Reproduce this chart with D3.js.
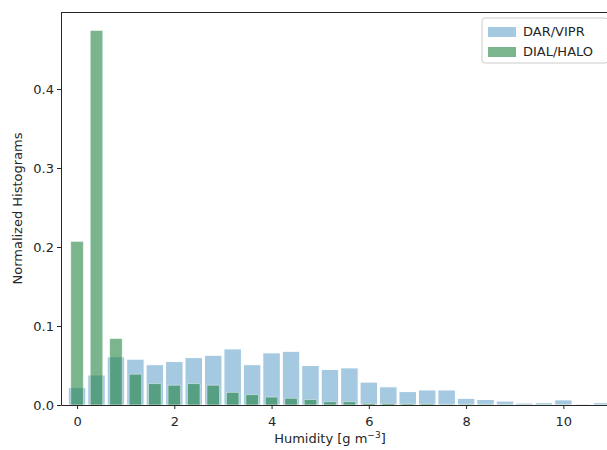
<!DOCTYPE html>
<html lang="en">
<head>
    <meta charset="UTF-8">
    <title>Normalized Histograms</title>
    <script src="https://d3js.org/d3.v7.min.js"></script>
    <style>
        body { margin: 0; background: #fff; }
        text { font-family: "DejaVu Sans", sans-serif; fill: #262626; }
        .tick text { font-size: 13px; }
        .axis-label { font-size: 13px; }
        .legend text { font-size: 13px; }
    </style>
</head>
<body>
    <svg width="607" height="450"></svg>

    <script>
        // bin centres (g m^-3), bin width 0.4
        const binStarts = [0, 0.4, 0.8, 1.2, 1.6, 2.0, 2.4, 2.8, 3.2, 3.6, 4.0, 4.4, 4.8, 5.2,
                           5.6, 6.0, 6.4, 6.8, 7.2, 7.6, 8.0, 8.4, 8.8, 9.2, 9.6, 10.0, 10.4, 10.8];
        const darVipr = [0.022, 0.038, 0.061, 0.058, 0.051, 0.055, 0.060, 0.063, 0.071, 0.051, 0.066, 0.068, 0.050, 0.045,
                         0.047, 0.029, 0.023, 0.017, 0.019, 0.019, 0.0085, 0.007, 0.005, 0.0025, 0.003, 0.0065, 0.0008, 0.003];
        const dialHalo = [0.207, 0.474, 0.084, 0.039, 0.027, 0.025, 0.027, 0.025, 0.016, 0.013, 0.010, 0.0085, 0.0068, 0.004,
                          0.004, 0.002, 0.002, 0.0015, 0.0015, 0.001, 0.001, 0.001, 0.0008, 0.0005, 0.0005, 0.0005, 0.0003, 0.0003];
        const xTicks = [0, 2, 4, 6, 8, 10];
        const yTicks = [0.0, 0.1, 0.2, 0.3, 0.4];
        const seriesNames = ["DAR/VIPR", "DIAL/HALO"];

        const binWidth = 0.4;
        const margin = { top: 12, right: -5, bottom: 45, left: 61 };
        const width = 607, height = 450;

        const svg = d3.select("svg");

        const x = d3.scaleLinear().domain([-0.33, 11.0]).range([margin.left, width - margin.right]);
        const y = d3.scaleLinear().domain([0, 0.4975]).range([height - margin.bottom, margin.top]);

        const plot = svg.append("g");

        // blue histogram (wide bars)
        plot.selectAll(".bar-dar")
            .data(binStarts)
            .enter()
            .append("rect")
            .attr("class", "bar-dar")
            .attr("x", (d, i) => x(d - binWidth * 0.45))
            .attr("width", x(binWidth * 0.9) - x(0))
            .attr("y", (d, i) => y(darVipr[i]))
            .attr("height", (d, i) => y(0) - y(darVipr[i]))
            .attr("fill", "#1f77b4")
            .attr("fill-opacity", 0.4)
            .attr("stroke", "#fff")
            .attr("stroke-width", 1);

        // green histogram (narrow bars)
        plot.selectAll(".bar-dial")
            .data(binStarts)
            .enter()
            .append("rect")
            .attr("class", "bar-dial")
            .attr("x", (d, i) => x(d - binWidth * 0.32))
            .attr("width", x(binWidth * 0.64) - x(0))
            .attr("y", (d, i) => y(dialHalo[i]))
            .attr("height", (d, i) => y(0) - y(dialHalo[i]))
            .attr("fill", "#218443")
            .attr("fill-opacity", 0.6)
            .attr("stroke", "#fff")
            .attr("stroke-opacity", 0.5)
            .attr("stroke-width", 0.8);

        // axes
        const xAxis = svg.append("g")
            .attr("transform", `translate(0,${height - margin.bottom})`)
            .call(d3.axisBottom(x).tickValues(xTicks).tickFormat(d3.format("d")).tickSize(4).tickSizeOuter(0));
        const yAxis = svg.append("g")
            .attr("transform", `translate(${margin.left},0)`)
            .call(d3.axisLeft(y).tickValues(yTicks).tickFormat(d3.format(".1f")).tickSize(4).tickSizeOuter(0));

        [xAxis, yAxis].forEach(a => {
            a.select(".domain").attr("stroke", "#262626").attr("stroke-width", 1);
            a.selectAll(".tick line").attr("stroke", "#262626");
        });
        xAxis.selectAll(".tick text").attr("dy", "1.05em");
        yAxis.selectAll(".tick text").attr("x", -7);

        // top spine
        svg.append("line")
            .attr("x1", margin.left).attr("x2", width)
            .attr("y1", margin.top + 0.5).attr("y2", margin.top + 0.5)
            .attr("stroke", "#262626");

        // axis labels
        const xl = svg.append("text")
            .attr("class", "axis-label")
            .attr("x", x(5.2))
            .attr("y", 443)
            .attr("text-anchor", "middle");
        xl.append("tspan").text("Humidity [g m");
        xl.append("tspan").text("\u22123").attr("dy", -5).style("font-size", "9px");
        xl.append("tspan").text("]").attr("dy", 5);

        svg.append("text")
            .attr("class", "axis-label")
            .attr("transform", `translate(22,${(margin.top + height - margin.bottom) / 2}) rotate(-90)`)
            .attr("text-anchor", "middle")
            .text("Normalized Histograms");

        // legend
        const legend = svg.append("g").attr("class", "legend").attr("transform", "translate(482,18)");
        legend.append("rect")
            .attr("width", 126).attr("height", 45).attr("rx", 3)
            .attr("fill", "#fff").attr("fill-opacity", 0.8)
            .attr("stroke", "#ccc");
        const colors = [["#1f77b4", 0.4], ["#218443", 0.6]];
        seriesNames.forEach((name, i) => {
            legend.append("rect")
                .attr("x", 6).attr("y", 9 + i * 20)
                .attr("width", 28).attr("height", 10)
                .attr("fill", colors[i][0]).attr("fill-opacity", colors[i][1]);
            legend.append("text")
                .attr("x", 41).attr("y", 18 + i * 20)
                .text(name);
        });
    </script>
</body>
</html>
